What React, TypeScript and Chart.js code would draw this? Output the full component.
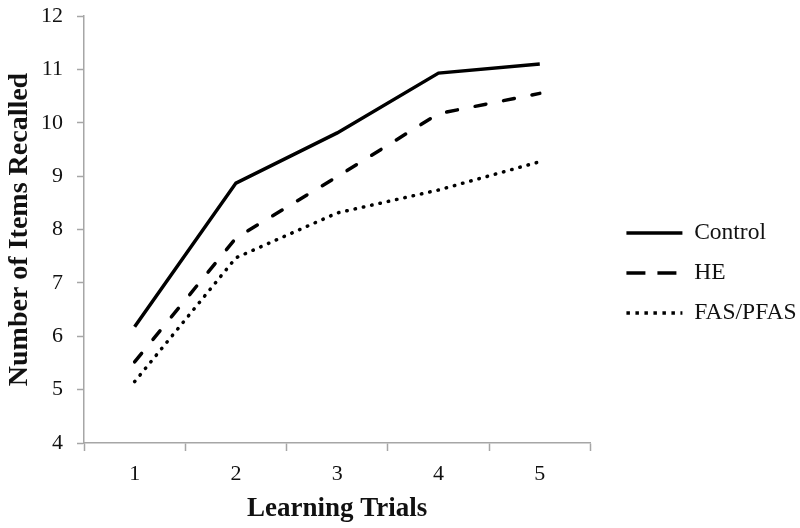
import React, { useEffect, useRef } from "react";
import { Chart, registerables } from "chart.js";

Chart.register(...registerables);

const categories = ["1", "2", "3", "4", "5"];
const controlValues = [6.18, 8.87, 9.81, 10.93, 11.1];
const heValues = [5.52, 7.84, 8.99, 10.17, 10.55];
const fasValues = [5.15, 7.47, 8.31, 8.74, 9.27];
const seriesNames = ["Control", "HE", "FAS/PFAS"];

const FONT = "'Liberation Serif', 'Times New Roman', serif";
const AXIS_GRAY = "#a6a6a6";
const LINE_W = 3.5;
const plotDashes: number[][] = [[], [11, 18], [0.5, 8]];
const legendDashes: number[][] = [[], [19, 12], [3.5, 5.5]];
const LEGEND_PAD = 16.5;
const LEGEND_SHIFT = 19.5;

const legendShift = {
  id: "legendShift",
  afterLayout(chart: any) {
    const lg = chart.legend;
    if (lg) {
      lg.left += LEGEND_SHIFT;
      lg.right += LEGEND_SHIFT;
    }
  },
};

export default function App() {
  const ref = useRef<HTMLCanvasElement>(null);

  useEffect(() => {
    if (!ref.current) return;
    const mk = (i: number, data: number[]) => ({
      label: seriesNames[i],
      data,
      borderColor: "#000",
      backgroundColor: "#000",
      borderWidth: LINE_W,
      borderDash: plotDashes[i],
      borderCapStyle: i === 0 ? "butt" : "round",
      borderJoinStyle: "miter",
      pointRadius: 0,
      tension: 0,
    });
    const chart = new Chart(ref.current, {
      type: "line",
      data: {
        labels: categories,
        datasets: [mk(0, controlValues), mk(1, heValues), mk(2, fasValues)] as any,
      },
      plugins: [legendShift],
      options: {
        responsive: false,
        animation: false,
        layout: { padding: { top: 0, left: 0, right: 13, bottom: 0 } },
        plugins: {
          tooltip: { enabled: false },
          legend: {
            position: "right",
            align: "center",
            title: { display: true, text: "", padding: { top: 7.5, bottom: 0.5 }, font: { size: 10, lineHeight: 1 } },
            labels: {
              usePointStyle: true,
              pointStyle: "line",
              pointStyleWidth: 56,
              color: "#111",
              padding: LEGEND_PAD,
              font: { family: FONT, size: 23.5 },
              generateLabels: (c: any) =>
                c.data.datasets.map((ds: any, i: number) => ({
                  text: ds.label,
                  fillStyle: "#000",
                  strokeStyle: "#000",
                  fontColor: "#111",
                  lineWidth: LINE_W,
                  lineDash: legendDashes[i],
                  lineCap: "butt",
                  pointStyle: "line",
                  hidden: false,
                  datasetIndex: i,
                })),
            },
          },
        },
        scales: {
          x: {
            offset: true,
            afterFit: (s: any) => {
              s.height = 85;
            },
            grid: {
              offset: true,
              drawOnChartArea: false,
              drawTicks: true,
              tickLength: 8,
              tickColor: AXIS_GRAY,
              tickWidth: 1.5,
            },
            border: { color: AXIS_GRAY, width: 1.5 },
            ticks: {
              color: "#111",
              padding: 10,
              font: { family: FONT, size: 22 },
            },
            title: {
              display: true,
              text: "Learning Trials",
              color: "#111",
              font: { family: FONT, size: 27, weight: "bold" },
              padding: { top: 4, bottom: 3 },
            },
          },
          y: {
            min: 4,
            max: 12,
            afterFit: (s: any) => {
              s.width = 84;
              s.paddingTop = 16;
            },
            grid: {
              drawOnChartArea: false,
              drawTicks: true,
              tickLength: 7,
              tickColor: AXIS_GRAY,
              tickWidth: 1.5,
            },
            border: { color: AXIS_GRAY, width: 1.5 },
            ticks: {
              stepSize: 1,
              color: "#111",
              padding: 14,
              font: { family: FONT, size: 22 },
            },
            title: {
              display: true,
              text: "Number of Items Recalled",
              color: "#111",
              font: { family: FONT, size: 28, weight: "bold" },
              padding: { top: 3, bottom: 3 },
            },
          },
        },
      },
    });
    return () => chart.destroy();
  }, []);

  return (
    <div style={{ position: "absolute", left: 0, top: 0, width: 800, height: 528, background: "#fff" }}>
      <canvas ref={ref} width={800} height={528} style={{ display: "block" }} />
    </div>
  );
}
